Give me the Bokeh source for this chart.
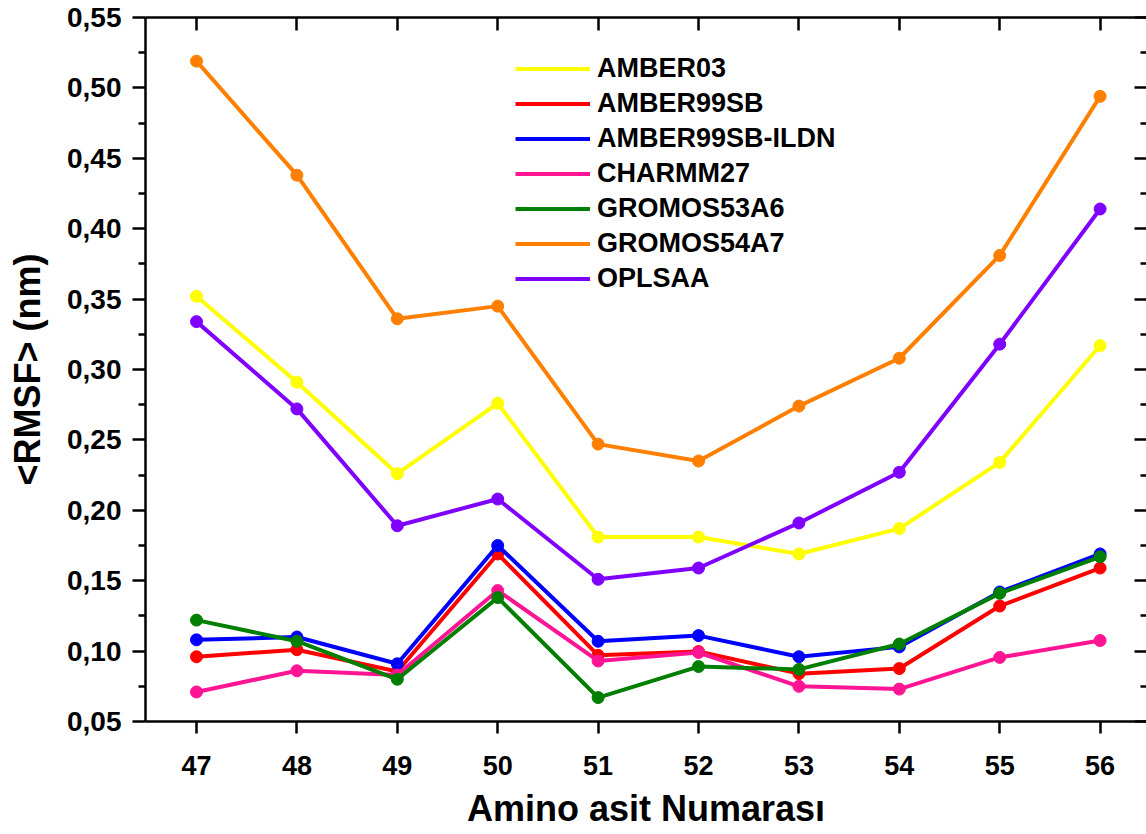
from bokeh.plotting import figure
from bokeh.models import (LinearAxis, FixedTicker, CustomJSTickFormatter, Legend, LegendItem, Range1d)
from bokeh.embed import file_html
from bokeh.resources import INLINE

residues = [47, 48, 49, 50, 51, 52, 53, 54, 55, 56]
x_tick_labels = ["47", "48", "49", "50", "51", "52", "53", "54", "55", "56"]
y_ticks = [0.05, 0.10, 0.15, 0.20, 0.25, 0.30, 0.35, 0.40, 0.45, 0.50, 0.55]
y_tick_labels = ["0,05", "0,10", "0,15", "0,20", "0,25", "0,30", "0,35", "0,40", "0,45", "0,50", "0,55"]
y_minor = [0.075, 0.125, 0.175, 0.225, 0.275, 0.325, 0.375, 0.425, 0.475, 0.525]

series_names = ["AMBER03", "AMBER99SB", "AMBER99SB-ILDN", "CHARMM27", "GROMOS53A6", "GROMOS54A7", "OPLSAA"]
amber03 = [0.352, 0.291, 0.226, 0.276, 0.181, 0.181, 0.169, 0.187, 0.234, 0.317]
amber99sb = [0.096, 0.101, 0.0855, 0.169, 0.097, 0.0997, 0.084, 0.0876, 0.132, 0.159]
amber99sb_ildn = [0.108, 0.110, 0.091, 0.175, 0.107, 0.111, 0.096, 0.103, 0.142, 0.169]
charmm27 = [0.071, 0.086, 0.083, 0.143, 0.093, 0.099, 0.075, 0.073, 0.0955, 0.1075]
gromos53a6 = [0.122, 0.107, 0.080, 0.138, 0.067, 0.089, 0.087, 0.105, 0.141, 0.167]
gromos54a7 = [0.519, 0.438, 0.336, 0.345, 0.247, 0.235, 0.274, 0.308, 0.381, 0.494]
oplsaa = [0.334, 0.272, 0.189, 0.208, 0.151, 0.159, 0.191, 0.227, 0.318, 0.414]
series_values = [amber03, amber99sb, amber99sb_ildn, charmm27, gromos53a6, gromos54a7, oplsaa]
colors = ["#FFFF00", "#FF0000", "#0000FF", "#FF1493", "#007F00", "#FF8000", "#8000FF"]

FONT = "Liberation Sans"

p = figure(width=1146, height=834, output_backend="svg", toolbar_location=None,
           x_range=Range1d(46.492, 56.462), y_range=Range1d(0.05, 0.55),
           min_border_left=145, min_border_right=0, min_border_top=17, min_border_bottom=113)
p.outline_line_color = None
p.xgrid.visible = False
p.ygrid.visible = False
p.background_fill_color = "white"

legend_items = []
for name, vals, col in zip(series_names, series_values, colors):
    r = p.line(residues, vals, line_color=col, line_width=4)
    p.scatter(residues, vals, size=12, fill_color=col, line_color=col)
    legend_items.append(LegendItem(label=name, renderers=[r]))

xfmt = CustomJSTickFormatter(args=dict(vals=residues, labs=x_tick_labels), code="""
for (let i = 0; i < vals.length; i++) { if (Math.abs(vals[i] - tick) < 1e-6) return labs[i]; }
return "";
""")
yfmt = CustomJSTickFormatter(args=dict(vals=y_ticks, labs=y_tick_labels), code="""
for (let i = 0; i < vals.length; i++) { if (Math.abs(vals[i] - tick) < 1e-6) return labs[i]; }
return "";
""")

# bottom axis
xa = p.xaxis[0]
xa.ticker = FixedTicker(ticks=residues)
xa.formatter = xfmt
xa.axis_line_width = 2.5
xa.major_tick_line_width = 2.5
xa.major_tick_out = 12
xa.major_tick_in = 0
xa.minor_tick_line_color = None
xa.major_label_standoff = 22
xa.major_label_text_font = FONT
xa.major_label_text_font_style = "bold"
xa.major_label_text_font_size = "27px"
xa.major_label_text_color = "black"
xa.axis_label = "Amino asit Numarası"
xa.axis_label_text_font = FONT
xa.axis_label_text_font_style = "bold"
xa.axis_label_text_font_size = "36px"
xa.axis_label_standoff = 10
xa.axis_label_text_color = "black"

# left axis
ya = p.yaxis[0]
ya.ticker = FixedTicker(ticks=y_ticks, minor_ticks=y_minor)
ya.formatter = yfmt
ya.axis_line_width = 2.5
ya.major_tick_line_width = 2.5
ya.minor_tick_line_width = 2.5
ya.major_tick_out = 13
ya.major_tick_in = 0
ya.minor_tick_out = 7
ya.minor_tick_in = 0
ya.major_label_standoff = 11
ya.major_label_text_font = FONT
ya.major_label_text_font_style = "bold"
ya.major_label_text_font_size = "28px"
ya.major_label_text_color = "black"
ya.axis_label = "<RMSF> (nm)"
ya.axis_label_text_font = FONT
ya.axis_label_text_font_style = "bold"
ya.axis_label_text_font_size = "36px"
ya.axis_label_standoff = 16
ya.axis_label_text_color = "black"

# top axis (ticks inward, no labels)
top = LinearAxis(ticker=FixedTicker(ticks=residues), major_label_text_font_size="1px",
                 major_label_text_color=None, major_label_standoff=0,
                 axis_line_width=2.5, major_tick_line_width=2.5,
                 major_tick_in=13, major_tick_out=0, minor_tick_line_color=None)
p.add_layout(top, "above")

# right axis (ticks inward, no labels, spine off-view)
right = LinearAxis(ticker=FixedTicker(ticks=y_ticks, minor_ticks=y_minor), major_label_text_font_size="1px",
                   major_label_text_color=None, major_label_standoff=0,
                   axis_line_color=None, major_tick_line_width=2.5,
                   minor_tick_line_width=2.5, major_tick_in=12, major_tick_out=0,
                   minor_tick_in=6, minor_tick_out=0)
p.add_layout(right, "right")

legend = Legend(items=legend_items, location=(370, 425), glyph_width=75, glyph_height=35,
                label_height=35, spacing=0, padding=0, margin=0, label_standoff=7,
                label_text_font=FONT, label_text_font_style="bold", label_text_font_size="27px",
                label_text_color="black", border_line_alpha=0, background_fill_alpha=0)
p.add_layout(legend)

open("out.html", "w").write(file_html(p, INLINE))
